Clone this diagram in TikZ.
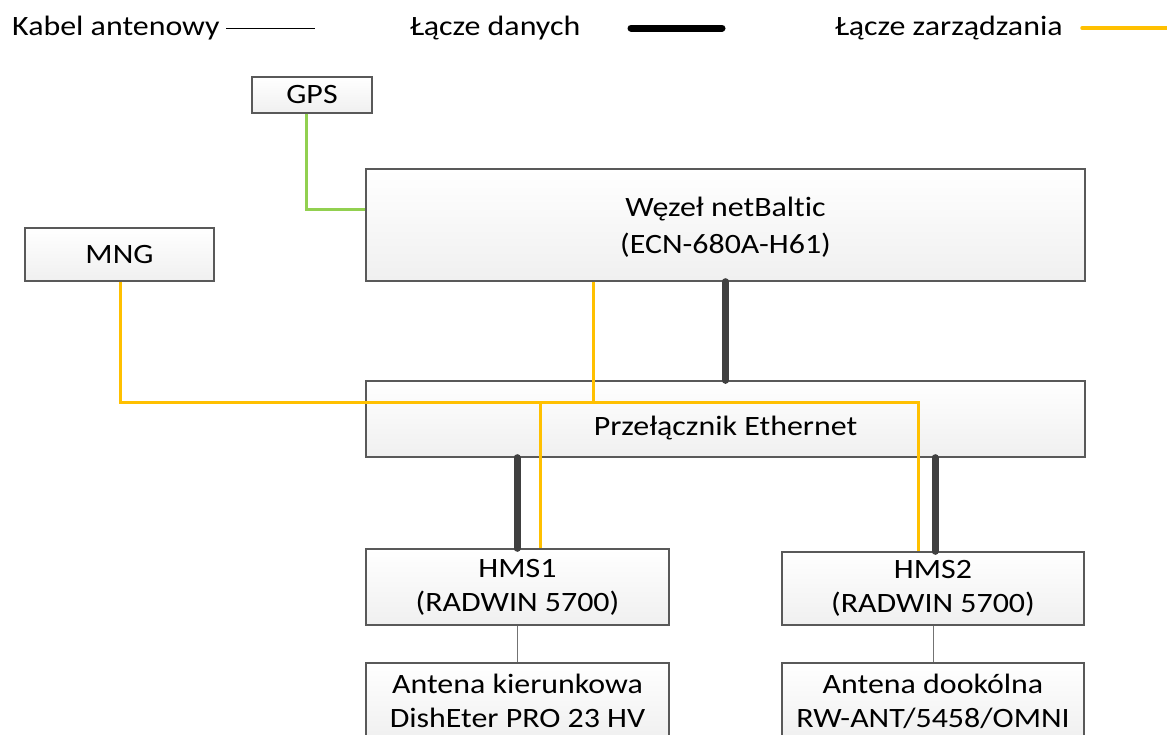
\documentclass[tikz,border=0pt]{standalone}
\usepackage{fontspec}
\setmainfont{Carlito}[FakeStretch=1.14, Ligatures=NoCommon]
\usetikzlibrary{calc}
\definecolor{mgmt}{HTML}{FFC000}
\definecolor{gpsc}{HTML}{92D050}
\definecolor{datac}{HTML}{404040}
\definecolor{boxline}{HTML}{595959}
\tikzset{
  box/.style={draw=boxline, line width=1.3pt, top color=white, bottom color=black!6,
    align=center, font=\fontsize{28}{34}\selectfont, inner sep=0pt, anchor=center},
  leg/.style={font=\fontsize{28}{34}\selectfont, anchor=west, inner sep=0pt},
  mgmtline/.style={draw=mgmt, line width=3pt},
  dataline/.style={draw=datac, line width=7pt, line cap=round},
  gpsline/.style={draw=gpsc, line width=3pt},
  antline/.style={draw=black!55, line width=1pt},
}
\begin{document}
\begin{tikzpicture}[x=1pt,y=-1pt]
\useasboundingbox (0,0) rectangle (1167,734);
% legend
\node[leg] (leg1) at (12,28) {Kabel antenowy};
\node[leg] (leg2) at (410,28) {Łącze danych};
\node[leg] (leg3) at (835,28) {Łącze zarządzania};
\coordinate (l1s) at (226,28); \coordinate (l1e) at (315,28);
\coordinate (l2s) at (631,28); \coordinate (l2e) at (722,28);
\coordinate (l3s) at (1082,28); \coordinate (l3e) at (1167,28);
\draw[draw=black, line width=1pt] (l1s) -- (l1e);
\draw[draw=black, line width=7pt, line cap=round] (l2s) -- (l2e);
\draw[mgmtline, line width=3.5pt, line cap=round] (l3s) -- (l3e);
% boxes
\node[box, minimum width=120, minimum height=36] (gps) at (312,95) {GPS};
\node[box, minimum width=719, minimum height=112, font=\fontsize{28}{37}\selectfont] (wezel) at (725.5,225) {\raisebox{-3pt}[40pt][30pt]{\parbox{300pt}{\centering Węzeł netBaltic\\(ECN-680A-H61)}}};
\node[box, minimum width=189, minimum height=53] (mng) at (119.5,254.5) {MNG};
\node[box, minimum width=719, minimum height=76] (sw) at (725.5,419) {\raisebox{-9pt}[20pt][6pt]{Przełącznik Ethernet}};
\node[box, minimum width=303, minimum height=76] (hms1) at (517.5,587) {HMS1\\(RADWIN 5700)};
\node[box, minimum width=302, minimum height=73] (hms2) at (933,588.5) {HMS2\\(RADWIN 5700)};
\node[box, minimum width=303, minimum height=76] (ant1) at (517.5,701) {Antena kierunkowa\\DishEter PRO 23 HV};
\node[box, minimum width=302, minimum height=76] (ant2) at (933,701) {Antena dookólna\\RW-ANT/5458/OMNI};
% helper coordinates
\coordinate (g) at (306,209);
\coordinate (mA) at (120,402);
\coordinate (mB) at (918,402);
\coordinate (mC) at (593,402);
\coordinate (mD) at (540,402);
\coordinate (d1) at (517,0);
\coordinate (d2) at (935,0);
% antenna cables
\draw[antline] (hms1.south) -- (ant1.north);
\draw[antline] (hms2.south) -- (ant2.north);
% GPS link
\draw[gpsline] (gps.south -| g) -- (g) -- (wezel.west |- g);
% data links
\draw[dataline] (wezel.south) -- (sw.north);
\draw[dataline] (sw.south -| d1) -- (hms1.north -| d1);
\draw[dataline] (sw.south -| d2) -- (hms2.north -| d2);
% management links
\draw[mgmtline] (mng.south -| mA) -- (mA) -- (mB) -- (hms2.north -| mB);
\draw[mgmtline] (wezel.south -| mC) -- (mC);
\draw[mgmtline] (mD) -- (hms1.north -| mD);
\end{tikzpicture}
\end{document}
